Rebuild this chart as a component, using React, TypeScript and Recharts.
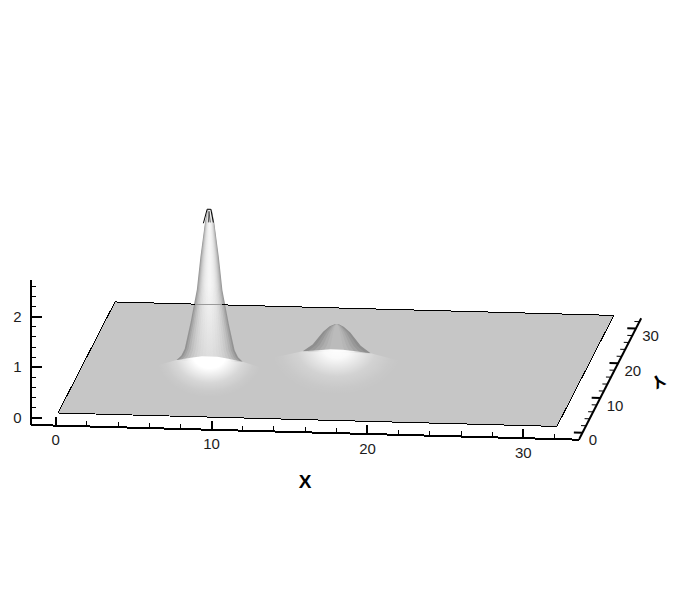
import React from "react";
import { ComposedChart, Area, Line, Scatter, XAxis, YAxis } from "recharts";

const W = 673;
const H = 598;

// plate corners (X, Y), low and high edge seen from the camera
const plateLowX = [0, 3.65, 32, 32];
const plateLowY = [0, 0, 0, 32];
const plateHighX = [0, 0, 28.35, 32];
const plateHighY = [0, 32, 32, 32];
const outlineX = [0, 0, 32, 32, 0];
const outlineY = [0, 32, 32, 0, 0];

// big peak: half width in X units against height
const peak1 = { x: 7.9, y: 16 };
const peak1Half = [2.12, 1.82, 1.6, 1.46, 1.22, 0.82, 0.59, 0.3, 0.14, 0];
const peak1Z = [0, 0.085, 0.22, 0.416, 0.752, 1.406, 2.06, 2.73, 2.99, 3.0];
const peak1Scale = [1, 0.93, 0.85, 0.76, 0.66, 0.56, 0.46, 0.36, 0.25, 0.13];
const peak1Shade = ["#989898", "#acacac", "#bebebe", "#cdcdcd", "#d9d9d9", "#e2e2e2", "#e9e9e9", "#eeeeee", "#f2f2f2", "#f5f5f5"];

// small peak
const peak2 = { x: 15.66, y: 19.4 };
const peak2Half = [2.18, 1.54, 0.87, 0.45, 0.16, 0];
const peak2Z = [0, 0.14, 0.4, 0.51, 0.55, 0.55];
const peak2Scale = [1, 0.85, 0.7, 0.55, 0.4, 0.25];
const peak2Shade = ["#8e8e8e", "#989898", "#a4a4a4", "#aeaeae", "#b6b6b6", "#bbbbbb"];

// lit patches in front of each peak
const glow1Off = [-3.4, -2.12, -1.2, -0.5, 0.5, 1.2, 2.12, 3.4];
const glow1Top = [-0.12, 0, 0.05, 0.085, 0.085, 0.05, 0, -0.12];
const glow2Off = [-4.2, -2.18, -1.2, -0.4, 0.4, 1.2, 2.18, 4.2];
const glow2Top = [-0.15, 0, 0.03, 0.055, 0.055, 0.03, 0, -0.15];

const tipOuterOff = [-0.4, -0.16, 0.08, 0.24];
const tipOuterZ = [2.72, 3.0, 3.0, 2.74];
const tipInnerOff = [-0.08, -0.04, 0.04];
const tipInnerZ = [2.74, 2.96, 2.74];

const xMajor = [0, 10, 20, 30];
const xMinor = [2, 4, 6, 8, 12, 14, 16, 18, 22, 24, 26, 28, 32];
const yMajor = [0, 10, 20, 30];
const yMinor = [2, 4, 6, 8, 12, 14, 16, 18, 22, 24, 26, 28, 32];
const zMajor = [0, 1, 2];
const zMinor = [0.2, 0.4, 0.6, 0.8, 1.2, 1.4, 1.6, 1.8, 2.2, 2.4, 2.6];

const proj = (x: number, y: number, z: number) => ({
  px: 58 + 15.59 * x + 1.78 * y,
  py: 413 + 0.42 * x - 3.47 * y - 50.5 * z,
});

const xAxisPt = (x: number, z = 0) => proj(x, -1.3, z - 0.16);
const yAxisPt = (y: number, dx = 0) => proj(33.64 + dx, y, -0.11);
const zAxisPt = (z: number, dx = 0) => proj(-1.75 + dx, 0, z - 0.107);

const GAP = { px: 0, py: null };
const segments = (pairs: { px: number; py: number }[][]) => pairs.flatMap((p) => [p[0], p[1], { ...GAP, px: p[1].px }]);

// silhouette of a peak, narrowed by scale for the inner shading layers
function peakLayer(c: { x: number; y: number }, half: number[], zs: number[], s: number) {
  const left = half.map((h, i) => ({ off: -h * s, z: zs[i] }));
  const right = half.slice(0, -1).reverse().map((h, i) => ({ off: h * s, z: zs[half.length - 2 - i] }));
  return [...left, ...right].map((d) => {
    const top = proj(c.x + d.off, c.y, d.z);
    const bot = proj(c.x + d.off, c.y, 0);
    return { px: top.px, range: [bot.py, top.py] };
  });
}

function glowData(c: { x: number; y: number }, off: number[], top: number[], depth: number) {
  return off.map((o, i) => {
    const t = proj(c.x + o, c.y, top[i]);
    const b = proj(c.x + o, c.y, -depth);
    return { px: t.px, range: [b.py, t.py] };
  });
}

const plateData = plateLowX.map((x, i) => {
  const lo = proj(x, plateLowY[i], 0);
  const hi = proj(plateHighX[i], plateHighY[i], 0);
  return { px: lo.px, range: [lo.py, hi.py] };
});
const outlineData = outlineX.map((x, i) => proj(x, outlineY[i], 0));

const xMajorTicks = segments(xMajor.map((x) => [xAxisPt(x), xAxisPt(x, 0.18)]));
const xMinorTicks = segments(xMinor.map((x) => [xAxisPt(x), xAxisPt(x, 0.1)]));
const yMajorTicks = segments(yMajor.map((y) => [yAxisPt(y), yAxisPt(y, -0.55)]));
const yMinorTicks = segments(yMinor.map((y) => [yAxisPt(y), yAxisPt(y, -0.32)]));
const zMajorTicks = segments(zMajor.map((z) => [zAxisPt(z), zAxisPt(z, 0.7)]));
const zMinorTicks = segments(zMinor.map((z) => [zAxisPt(z), zAxisPt(z, 0.36)]));

const textData = [
  ...xMajor.map((x) => ({ ...proj(x, -1.3, -0.44), text: String(x), anchor: "middle", size: 15, bold: false, rot: 0 })),
  ...yMajor.map((y) => ({ ...proj(34.05, y, -0.25), text: String(y), anchor: "start", size: 15, bold: false, rot: 0 })),
  ...zMajor.map((z) => ({ ...proj(-2.6, 0, z - 0.107), text: String(z), anchor: "middle", size: 15, bold: false, rot: 0 })),
  { ...proj(15.99, -1.3, -1.14), text: "X", anchor: "middle", size: 19, bold: true, rot: 0 },
  { ...proj(36.5, 17.5, -0.27), text: "Y", anchor: "middle", size: 18, bold: true, rot: 150 },
];

function ChartText({ cx, cy, payload }: any) {
  return (
    <text
      x={cx}
      y={cy}
      textAnchor={payload.anchor}
      dominantBaseline="central"
      fontFamily="Liberation Sans"
      fontSize={payload.size}
      fontWeight={payload.bold ? 700 : 400}
      fill={payload.bold ? "#000" : "#1c1c1c"}
      transform={payload.rot ? `rotate(${payload.rot} ${cx} ${cy})` : undefined}
    >
      {payload.text}
    </text>
  );
}

const area = (key: string, data: any[], fill: string) => (
  <Area key={key} data={data} dataKey="range" type="linear" fill={fill} fillOpacity={1} stroke="none" dot={false} activeDot={false} isAnimationActive={false} />
);

const line = (key: string, data: any[], stroke: string, width: number, crisp = true, opacity = 1) => (
  <Line
    key={key}
    data={data}
    dataKey="py"
    type="linear"
    stroke={stroke}
    strokeWidth={width}
    strokeOpacity={opacity}
    shapeRendering={crisp ? "crispEdges" : undefined}
    dot={false}
    activeDot={false}
    connectNulls={false}
    isAnimationActive={false}
  />
);

export default function App() {
  return (
    <div style={{ width: W, height: H }}>
      <style>{"body{margin:0;background:#fff}"}</style>
      <ComposedChart width={W} height={H} margin={{ top: 0, right: 0, bottom: 0, left: 0 }}>
        <defs>
          <radialGradient id="glow1" cx="0.5" cy="0" r="0.5">
            <stop offset="0" stopColor="#fff" stopOpacity={1} />
            <stop offset="0.3" stopColor="#fff" stopOpacity={1} />
            <stop offset="0.45" stopColor="#fff" stopOpacity={0.7} />
            <stop offset="0.65" stopColor="#fff" stopOpacity={0.3} />
            <stop offset="0.85" stopColor="#fff" stopOpacity={0.08} />
            <stop offset="1" stopColor="#fff" stopOpacity={0} />
          </radialGradient>
          <radialGradient id="glow2" cx="0.5" cy="0" r="0.5">
            <stop offset="0" stopColor="#fff" stopOpacity={1} />
            <stop offset="0.2" stopColor="#fff" stopOpacity={0.9} />
            <stop offset="0.4" stopColor="#fff" stopOpacity={0.55} />
            <stop offset="0.6" stopColor="#fff" stopOpacity={0.22} />
            <stop offset="0.85" stopColor="#fff" stopOpacity={0.05} />
            <stop offset="1" stopColor="#fff" stopOpacity={0} />
          </radialGradient>
          <linearGradient id="baseShade" x1="0" y1="0" x2="0" y2="1">
            <stop offset="0.5" stopColor="#777" stopOpacity={0} />
            <stop offset="1" stopColor="#777" stopOpacity={0.2} />
          </linearGradient>
        </defs>
        <XAxis dataKey="px" type="number" domain={[0, W]} allowDataOverflow hide />
        <YAxis dataKey="py" type="number" domain={[0, H]} reversed allowDataOverflow hide />

        {area("plate", plateData, "#c6c6c6")}
        {line("outline", outlineData, "#000", 1)}

        {peak1Scale.map((s, i) => area(`p1-${i}`, peakLayer(peak1, peak1Half, peak1Z, s), peak1Shade[i]))}
        {area("p1-base", peakLayer(peak1, peak1Half, peak1Z, 1), "url(#baseShade)")}
        {peak2Scale.map((s, i) => area(`p2-${i}`, peakLayer(peak2, peak2Half, peak2Z, s), peak2Shade[i]))}

        {line("back-through", [proj(5.13, 32, 0), proj(6.86, 32, 0)], "#9a9a9a", 1)}
        {area("glow1", glowData(peak1, glow1Off, glow1Top, 1.5), "url(#glow1)")}
        {area("glow2", glowData(peak2, glow2Off, glow2Top, 1.7), "url(#glow2)")}

        {line("tip-outer", tipOuterOff.map((o, i) => proj(peak1.x + o, peak1.y, tipOuterZ[i])), "#000", 1, false)}
        {line("tip-inner", tipInnerOff.map((o, i) => proj(peak1.x + o, peak1.y, tipInnerZ[i])), "#555", 1, false)}

        {line("x-axis", [xAxisPt(-1.6), xAxisPt(33.6)], "#000", 2)}
        {line("y-axis", [yAxisPt(-1.8), yAxisPt(33)], "#000", 2, false)}
        {line("z-axis", [zAxisPt(-0.14), zAxisPt(2.72)].map((p) => ({ ...p, px: 30.7 })), "#000", 2)}
        {line("x-major", xMajorTicks, "#000", 2)}
        {line("x-minor", xMinorTicks, "#000", 1)}
        {line("y-major", yMajorTicks, "#000", 2, false)}
        {line("y-minor", yMinorTicks, "#000", 1, false)}
        {line("z-major", zMajorTicks, "#000", 2)}
        {line("z-minor", zMinorTicks, "#000", 1)}

        <Scatter data={textData} shape={ChartText} isAnimationActive={false} />
      </ComposedChart>
    </div>
  );
}
